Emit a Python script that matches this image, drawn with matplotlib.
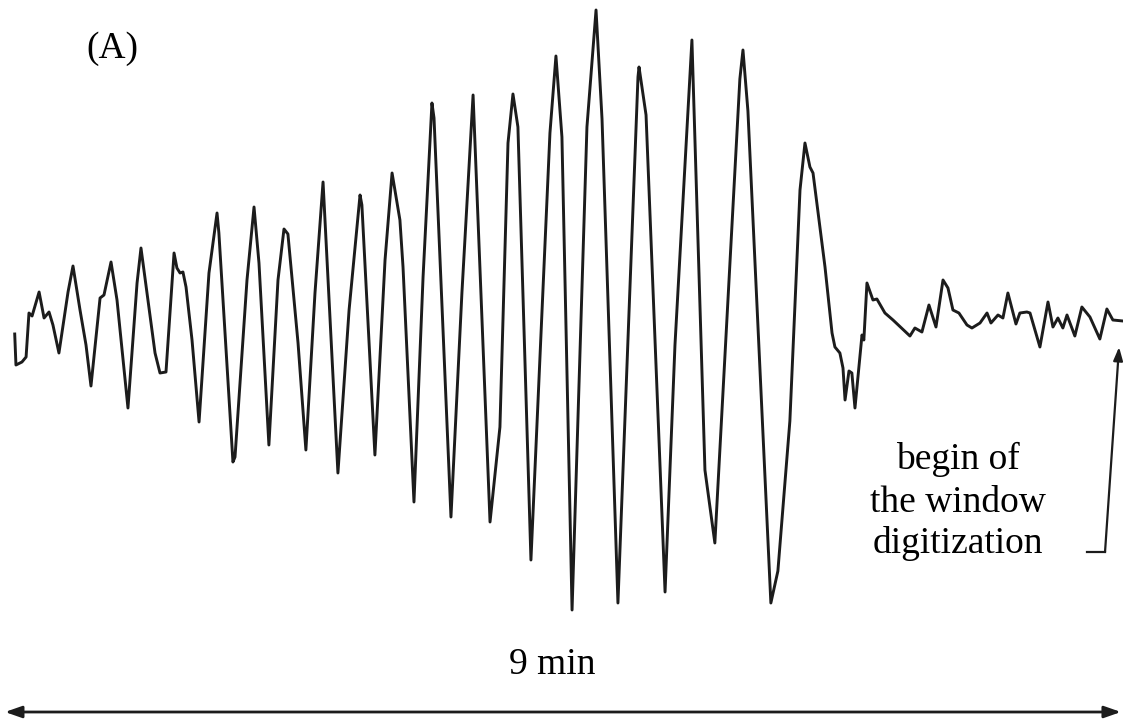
import numpy as np
import matplotlib.pyplot as plt

# recorded trace: time since start of the record (s) and pen amplitude (arbitrary units)
t_sec = [4.7, 5.3, 8.2, 10.2, 11.6, 13.1, 16.5, 18.9, 21.3, 23.2, 26.1, 30.5, 32.9,
         36.3, 39.2, 41.6, 46.0, 47.9, 51.3, 54.2, 59.5, 63.9, 65.8, 68.7, 72.6, 75.0,
         77.9, 81.8, 83.2, 84.7, 86.1, 87.6, 90.5, 93.9, 98.7, 102.6, 103.5, 110.3,
         111.3, 117.1, 120.5, 122.9, 127.7, 132.1, 135.0, 136.9, 141.8, 145.6, 150.0,
         153.9, 161.1, 166.5, 171.8, 172.7, 179.0, 183.9, 187.3, 191.1, 192.6, 197.9,
         202.3, 206.6, 207.6, 215.8, 221.1, 226.5, 234.7, 239.5, 243.4, 245.8, 248.2,
         254.5, 263.7, 266.6, 269.5, 274.4, 281.6, 286.0, 288.9, 296.6, 306.3, 306.8,
         310.2, 319.4, 324.2, 332.4, 338.7, 343.5, 355.6, 357.1, 359.5, 370.6, 374.0,
         379.8, 384.7, 387.1, 389.5, 391.0, 396.8, 400.2, 401.6, 404.0, 405.5, 406.5,
         408.4, 409.8, 411.3, 414.7, 415.6, 417.1, 420.0, 421.9, 425.8, 429.7, 437.9,
         440.3, 443.7, 447.1, 450.5, 453.9, 456.3, 458.7, 461.6, 465.5, 467.9, 471.8,
         475.2, 477.1, 480.5, 482.9, 485.3, 489.2, 491.1, 494.5, 496.0, 500.8, 504.7,
         507.1, 509.5, 511.9, 513.9, 517.7, 521.1, 525.0, 529.8, 533.2, 536.1, 541.0]
amp = [-13, -44, -41, -36, 8, 5, 29, 3, 9, -4, -32, 29, 55,
       11, -24, -65, 23, 26, 59, 21, -87, 38, 73, 28, -32, -52,
       -51, 68, 53, 48, 49, 34, -19, -101, 48, 108, 88, -141,
       -136, 41, 114, 58, -124, 41, 92, 87, -22, -129, 28,
       139, -152, 11, 126, 116, -134, 61, 148, 101, 54, -181,
       44, 218, 203, -196, 28, 226, -201, -106, 178, 227, 194,
       -239, 188, 265, 184, -289, 194, 311, 202, -282, 244, 254,
       206, -271, -24, 281, -149, -222, 242, 271, 210, -282, -250,
       -100, 131, 178, 154, 148, 54, -12, -26, -32, -47, -79,
       -50, -52, -87, -14, -19, 38, 21, 22, 8, 1, -15,
       -7, -11, 16, -6, 41, 33, 11, 8, -4, -7, -2,
       8, -2, 6, 3, 28, -3, 8, 9, 8, -26, 19,
       -6, 3, -7, 6, -15, 14, 4, -18, 12, 1, 0]

record_len = 540  # 9 min
window_start = 539.1

plt.rcParams['font.family'] = ['Liberation Serif', 'DejaVu Serif']

fig = plt.figure(figsize=(11.23, 7.25), dpi=100)
ax = fig.add_axes([0, 0, 1, 1])
ax.set_xlim(-2.42, 541.0)
ax.set_ylim(-404, 321)
ax.axis('off')

ink = '#1c1c1c'
ax.plot(t_sec, amp, color=ink, lw=2.1)

ax.text(51.8, 272, '(A)', fontsize=27, ha='center', va='center')

# length of the record
ax.annotate('', xy=(0, -391), xytext=(record_len, -391),
            arrowprops=dict(arrowstyle='<|-|>,head_length=1.0,head_width=0.35',
                            color=ink, lw=2.0, shrinkA=0, shrinkB=0))
ax.text(265, -344, '9 min', fontsize=27, ha='center', va='center')

# start of the digitized window
ax.plot([523.6, 532.3], [-231, -231], color=ink, lw=1.6)
ax.annotate('', xy=(window_start, -26), xytext=(532.3, -231),
            arrowprops=dict(arrowstyle='-|>,head_length=0.8,head_width=0.28',
                            color=ink, lw=1.6, shrinkA=0, shrinkB=0))
for label, y in zip(['begin of', 'the window', 'digitization'], [-148, -191, -232]):
    ax.text(461, y, label, fontsize=27, ha='center', va='baseline')

fig.savefig('out.png', dpi=100, facecolor='white')
